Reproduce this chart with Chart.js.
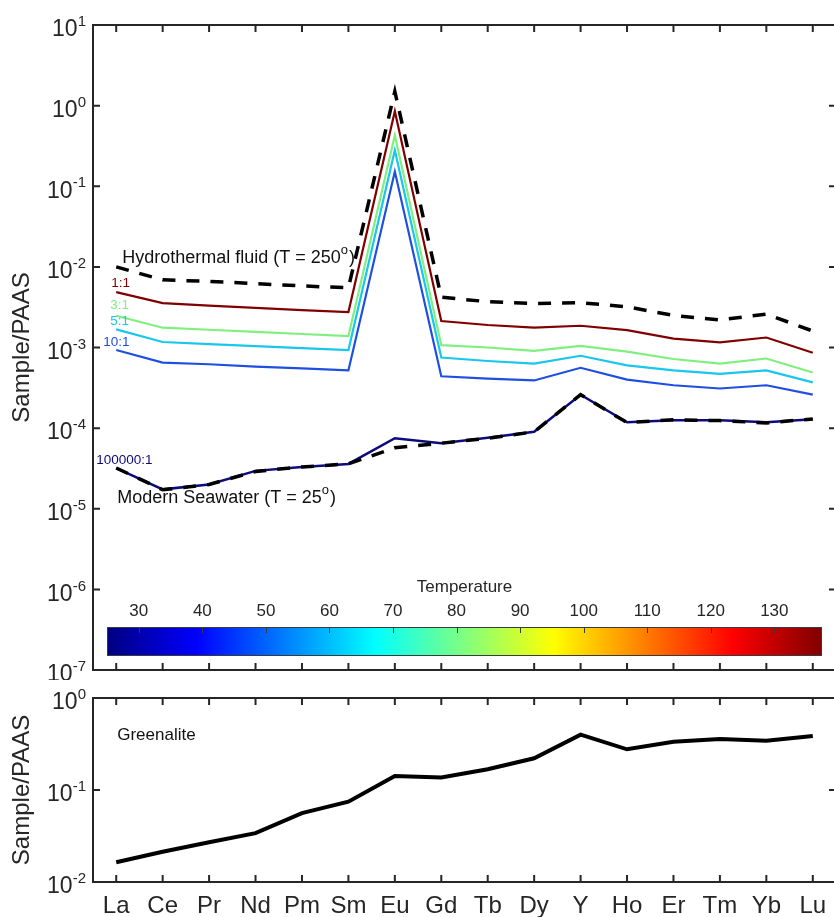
<!DOCTYPE html>
<html>
<head>
<meta charset="utf-8">
<script src="https://cdn.jsdelivr.net/npm/chart.js@4"></script>
<style>
  html, body { margin: 0; padding: 0; background: #fff; overflow: hidden; }
  #wrap { position: relative; width: 834px; height: 917px; overflow: hidden; }
  canvas { position: absolute; left: 0; }
  #top { top: 0; }
  #bottom { top: 680px; }
</style>
</head>
<body>
<div id="wrap">
  <canvas id="top" width="840" height="680"></canvas>
  <canvas id="bottom" width="840" height="237"></canvas>
</div>
<script>
// REE + Y, normalised to PAAS
const elements = ['La', 'Ce', 'Pr', 'Nd', 'Pm', 'Sm', 'Eu', 'Gd', 'Tb', 'Dy', 'Y', 'Ho', 'Er', 'Tm', 'Yb', 'Lu'];

const hydrothermal = [0.0100, 0.0069, 0.0066, 0.0062, 0.0058, 0.0055, 1.5, 0.0042, 0.0037, 0.0035, 0.0036, 0.0032, 0.0025, 0.0022, 0.0026, 0.0016];
const seawater = [3.2e-5, 1.72e-5, 2.0e-5, 2.9e-5, 3.3e-5, 3.6e-5, 5.7e-5, 6.5e-5, 7.5e-5, 9.0e-5, 2.6e-4, 1.17e-4, 1.27e-4, 1.24e-4, 1.16e-4, 1.3e-4];

const mix1 = [0.00486, 0.00355, 0.0033, 0.0031, 0.0029, 0.00275, 0.85, 0.00213, 0.0019, 0.00176, 0.00186, 0.00164, 0.00129, 0.00116, 0.00133, 0.00086];
const mix3 = [0.00248, 0.00176, 0.00166, 0.00156, 0.00147, 0.00138, 0.43, 0.00107, 0.0010, 0.00091, 0.00105, 0.00089, 0.00072, 0.00063, 0.00073, 0.00049];
const mix5 = [0.00168, 0.00117, 0.0011, 0.00104, 0.00098, 0.00093, 0.28, 0.00075, 0.00068, 0.00063, 0.00079, 0.0006, 0.00052, 0.00047, 0.00052, 0.00037];
const mix10 = [0.00093, 0.00065, 0.00062, 0.00058, 0.00055, 0.00052, 0.152, 0.00044, 0.00041, 0.00039, 0.00056, 0.0004, 0.00034, 0.00031, 0.00034, 0.00026];
const mix100000 = [3.2e-5, 1.74e-5, 2.0e-5, 2.95e-5, 3.3e-5, 3.6e-5, 7.5e-5, 6.5e-5, 7.6e-5, 9.0e-5, 2.6e-4, 1.18e-4, 1.25e-4, 1.25e-4, 1.18e-4, 1.29e-4];

const greenalite = [0.0164, 0.0213, 0.027, 0.034, 0.056, 0.0746, 0.142, 0.137, 0.168, 0.221, 0.40, 0.277, 0.335, 0.358, 0.344, 0.386];

const mixLabels = ['1:1', '3:1', '5:1', '10:1', '100000:1'];
const mixSeries = [mix1, mix3, mix5, mix10, mix100000];
const mixColors = ['#800000', '#7fef7f', '#19c6ec', '#1f4fe0', '#0b0b7c'];

const tempTicks = [30, 40, 50, 60, 70, 80, 90, 100, 110, 120, 130];
const tempMin = 25;
const tempMax = 137.5;

const topDecades = [-7, -6, -5, -4, -3, -2, -1, 0, 1];
const bottomDecades = [-2, -1, 0];

const FONT = '"Liberation Sans", Arial, Helvetica, sans-serif';
const INK = '#262626';

// matlab jet colormap
function jet(t) {
  const c = v => Math.round(255 * Math.max(0, Math.min(1, v)));
  return `rgb(${c(1.5 - Math.abs(4 * t - 3))},${c(1.5 - Math.abs(4 * t - 2))},${c(1.5 - Math.abs(4 * t - 1))})`;
}

// text with superscript pieces: parts = [[text, isSup], ...]
function richText(ctx, x, y, parts, size) {
  let cx = x;
  ctx.textAlign = 'left';
  ctx.textBaseline = 'middle';
  parts.forEach(([t, sup]) => {
    ctx.font = (sup ? Math.round(size * 0.7) : size) + 'px ' + FONT;
    ctx.fillText(t, cx, sup ? y - size * 0.42 : y);
    cx += ctx.measureText(t).width + (sup ? 1 : 0);
  });
}

function frameFor(decades, notes) {
  return {
    id: 'frame',
    afterDraw(chart) {
      const ctx = chart.ctx, a = chart.chartArea, x = chart.scales.x, y = chart.scales.y;
      ctx.save();
      if (notes) notes(chart);

      // box with inward ticks
      ctx.strokeStyle = INK;
      ctx.lineWidth = 2;
      ctx.beginPath();
      elements.forEach((e, i) => {
        const px = x.getPixelForValue(i);
        ctx.moveTo(px, a.top); ctx.lineTo(px, a.top + 7);
        ctx.moveTo(px, a.bottom); ctx.lineTo(px, a.bottom - 7);
      });
      decades.forEach(k => {
        const py = y.getPixelForValue(Math.pow(10, k));
        ctx.moveTo(a.left, py); ctx.lineTo(a.left + 7, py);
        ctx.moveTo(a.right, py); ctx.lineTo(a.right - 7, py);
      });
      ctx.stroke();
      ctx.strokeRect(a.left, a.top, a.right - a.left, a.bottom - a.top);

      // 10^k labels
      ctx.fillStyle = INK;
      ctx.textBaseline = 'middle';
      decades.forEach(k => {
        const py = y.getPixelForValue(Math.pow(10, k));
        const exp = k < 0 ? '-' + (-k) : String(k);
        ctx.font = '15px ' + FONT;
        const ew = ctx.measureText(exp).width;
        ctx.textAlign = 'left';
        ctx.fillText(exp, 86 - ew, py - 3);
        ctx.font = '23px ' + FONT;
        ctx.textAlign = 'right';
        ctx.fillText('10', 86 - ew, py + 5);
      });

      // y title
      ctx.save();
      ctx.translate(29, (a.top + a.bottom) / 2);
      ctx.rotate(-Math.PI / 2);
      ctx.font = '24px ' + FONT;
      ctx.textAlign = 'center';
      ctx.textBaseline = 'alphabetic';
      ctx.fillText('Sample/PAAS', 0, 0);
      ctx.restore();

      ctx.restore();
    }
  };
}

function topNotes(chart) {
  const ctx = chart.ctx, a = chart.chartArea, x = chart.scales.x, y = chart.scales.y;
  const xLa = x.getPixelForValue(0);

  // colorbar
  const cb = { left: a.left + 14, right: a.right - 14, top: a.bottom - 43, bottom: a.bottom - 14 };
  const grad = ctx.createLinearGradient(cb.left, 0, cb.right, 0);
  for (let i = 0; i <= 64; i++) grad.addColorStop(i / 64, jet(i / 64));
  ctx.fillStyle = grad;
  ctx.fillRect(cb.left, cb.top, cb.right - cb.left, cb.bottom - cb.top);
  ctx.strokeStyle = '#3a3a3a';
  ctx.lineWidth = 1;
  ctx.strokeRect(cb.left + 0.5, cb.top + 0.5, cb.right - cb.left - 1, cb.bottom - cb.top - 1);
  const tx = t => cb.left + (t - tempMin) / (tempMax - tempMin) * (cb.right - cb.left);
  ctx.beginPath();
  tempTicks.forEach(t => {
    const px = Math.round(tx(t)) + 0.5;
    ctx.moveTo(px, cb.top); ctx.lineTo(px, cb.top + 6);
  });
  ctx.stroke();
  ctx.fillStyle = INK;
  ctx.font = '17px ' + FONT;
  ctx.textAlign = 'center';
  ctx.textBaseline = 'middle';
  tempTicks.forEach(t => ctx.fillText(String(t), tx(t), cb.top - 16));
  ctx.fillText('Temperature', (cb.left + cb.right) / 2, cb.top - 40);

  // curve notes
  ctx.fillStyle = '#111';
  richText(ctx, xLa + 6, y.getPixelForValue(hydrothermal[0]) - 9,
    [['Hydrothermal fluid (T = 250', false], ['o', true], [')', false]], 18);
  richText(ctx, xLa + 1, y.getPixelForValue(seawater[0]) + 30,
    [['Modern Seawater (T = 25', false], ['o', true], [')', false]], 18);

  const nudge = [[-5, -9], [-6, -10], [-6, -8], [-13, -8], [-20, -8]];
  ctx.font = '13.5px ' + FONT;
  ctx.textAlign = 'left';
  ctx.textBaseline = 'middle';
  mixLabels.forEach((lab, i) => {
    ctx.fillStyle = mixColors[i];
    ctx.fillText(lab, xLa + nudge[i][0], y.getPixelForValue(mixSeries[i][0]) + nudge[i][1]);
  });
}

function bottomNotes(chart) {
  const ctx = chart.ctx, a = chart.chartArea, x = chart.scales.x;
  ctx.fillStyle = '#111';
  ctx.font = '17px ' + FONT;
  ctx.textAlign = 'left';
  ctx.textBaseline = 'middle';
  ctx.fillText('Greenalite', x.getPixelForValue(0) + 1, a.top + 37);

  ctx.fillStyle = INK;
  ctx.font = '24px ' + FONT;
  ctx.textAlign = 'center';
  ctx.textBaseline = 'alphabetic';
  elements.forEach((e, i) => ctx.fillText(e, x.getPixelForValue(i), a.bottom + 31));
}

function lineSet(data, color, width, dash) {
  return {
    data: data,
    borderColor: color,
    borderWidth: width,
    borderDash: dash || [],
    borderCapStyle: 'butt',
    borderJoinStyle: 'miter',
    pointRadius: 0,
    tension: 0,
    fill: false
  };
}

function baseOptions(yMin, yMax, xHeight, padTop) {
  return {
    responsive: false,
    animation: false,
    events: [],
    layout: { padding: { top: padTop, right: 4, left: 0, bottom: 0 } },
    plugins: { legend: { display: false }, tooltip: { enabled: false } },
    scales: {
      x: {
        type: 'category',
        offset: true,
        grid: { display: false },
        border: { display: false },
        ticks: { display: false },
        afterFit: s => { s.height = xHeight; }
      },
      y: {
        type: 'logarithmic',
        min: yMin,
        max: yMax,
        grid: { display: false },
        border: { display: false },
        ticks: { display: false },
        afterFit: s => { s.width = 93; }
      }
    }
  };
}

new Chart(document.getElementById('top'), {
  type: 'line',
  data: {
    labels: elements,
    datasets: [
      lineSet(hydrothermal, '#000', 3.5, [13, 11]),
      lineSet(seawater, '#000', 3.5, [13, 11]),
      lineSet(mix1, mixColors[0], 2.2),
      lineSet(mix3, mixColors[1], 2.2),
      lineSet(mix5, mixColors[2], 2.2),
      lineSet(mix10, mixColors[3], 2.2),
      lineSet(mix100000, mixColors[4], 2.5)
    ]
  },
  options: baseOptions(1e-7, 10, 10, 25),
  plugins: [frameFor(topDecades, topNotes)]
});

new Chart(document.getElementById('bottom'), {
  type: 'line',
  data: {
    labels: elements,
    datasets: [lineSet(greenalite, '#000', 4)]
  },
  options: baseOptions(0.01, 1, 35, 18),
  plugins: [frameFor(bottomDecades, bottomNotes)]
});
</script>
</body>
</html>
